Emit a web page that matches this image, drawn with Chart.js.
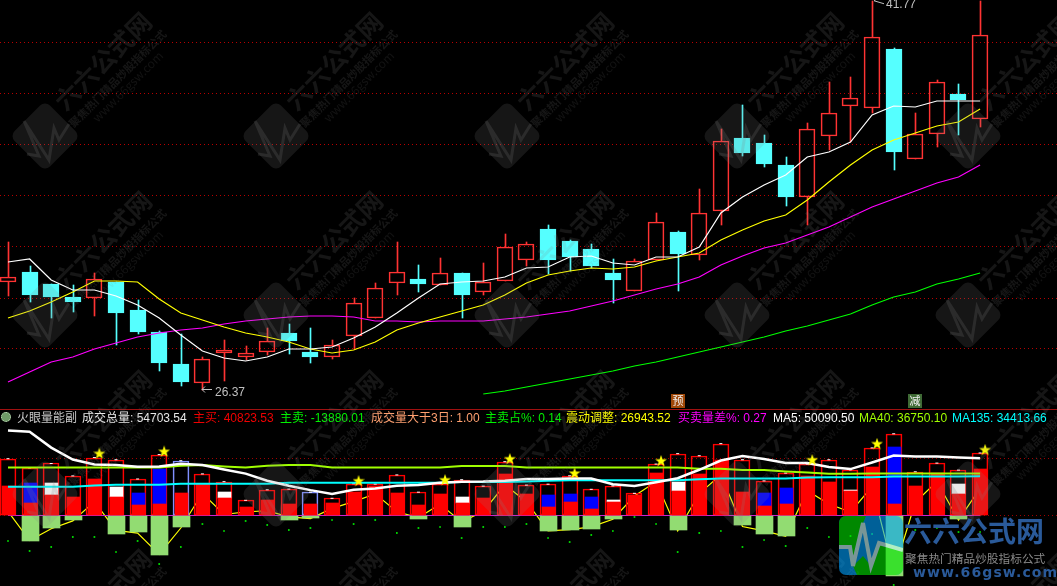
<!DOCTYPE html>
<html>
<head>
<meta charset="utf-8">
<script src="https://cdn.jsdelivr.net/npm/chart.js"></script>
<style>
html, body { margin: 0; padding: 0; background: #000; overflow: hidden; }
#wrap { position: relative; width: 1057px; height: 586px; overflow: hidden; background: #000; }
canvas { position: absolute; left: 0; top: 0; }
.sep { position: absolute; left: 0; top: 409px; width: 1057px; height: 1px; background: #a01010; }
.hd { position: absolute; top: 411px; font: 12px/14px "Liberation Sans", "Noto Sans CJK SC", sans-serif; white-space: nowrap; }
.icon { position: absolute; left: 1px; top: 412px; width: 10px; height: 10px; border-radius: 50%; background: #6f9a68; border: 1px dotted #cfe8c8; box-sizing: border-box; }
.wm { position: absolute; left: 0; top: 0; pointer-events: none; }
.wm div { position: absolute; white-space: nowrap; color: rgba(128,128,128,.17); font-family: "Noto Sans CJK SC", sans-serif; }
.logo { position: absolute; left: 839px; top: 516px; width: 64px; height: 59px; border-radius: 7px; overflow: hidden; opacity: .6; }
.lt { position: absolute; white-space: nowrap; font-family: "Noto Sans CJK SC", sans-serif; }
</style>
</head>
<body>
<div id="wrap">
  <canvas id="c" width="1057" height="586"></canvas>
  <div class="sep"></div>
  <div class="icon"></div>
  <span class="hd" style="left:17px;color:#c8c8c8">火眼量能副</span>
  <span class="hd" style="left:82px;color:#e8e8e8">成交总量: 54703.54</span>
  <span class="hd" style="left:193px;color:#f00000">主买: 40823.53</span>
  <span class="hd" style="left:280px;color:#00f000">主卖: -13880.01</span>
  <span class="hd" style="left:371px;color:#ffa070">成交量大于3日: 1.00</span>
  <span class="hd" style="left:485px;color:#00f000">主卖占%: 0.14</span>
  <span class="hd" style="left:566px;color:#ffff00">震动调整: 26943.52</span>
  <span class="hd" style="left:678px;color:#ff00ff">买卖量差%: 0.27</span>
  <span class="hd" style="left:773px;color:#ffffff">MA5: 50090.50</span>
  <span class="hd" style="left:859px;color:#a0ff00">MA40: 36750.10</span>
  <span class="hd" style="left:952px;color:#00ffff">MA135: 34413.66</span>
  <div class="wm" id="wm"></div>
  <div class="logo">
    <svg width="64" height="59" viewBox="0 0 64 59">
      <rect width="64" height="59" fill="#00a0fd"/>
      <polygon points="0,0 27,0 24,7 14,50 11,31 0,31" fill="#00e300"/>
      <polygon points="24,40 32,50 40,27 64,34 64,59 18,59 14,50" fill="#00e300"/>
      <polyline points="0,31 11,31 14,50 24,7 32,50 40,27 64,34" fill="none" stroke="#c8fafa" stroke-width="4"/>
    </svg>
  </div>
  <div class="lt" style="left:904px;top:510px;font-size:28px;font-weight:700;color:#2a5a9a;letter-spacing:0">六六公式网</div>
  <div class="lt" style="left:905px;top:549px;font-size:11.7px;color:#8a8a8a">聚焦热门精品炒股指标公式</div>
  <div class="lt" style="left:913px;top:564px;font:bold 14px 'DejaVu Sans';color:#2a5a9a;letter-spacing:1.1px">www.66gsw.com</div>
</div>

<script>
const opens = [30.52,30.92,30.44,29.92,29.88,30.52,29.4,28.52,27.24,26.48,27.68,27.52,27.72,28.48,27.72,27.52,28.36,29.08,30.48,30.64,30.4,30.88,30.12,30.56,31.4,32.64,32.16,31.84,30.88,30.16,31.4,32.52,31.6,33.36,36.28,36.08,35.2,33.92,36.36,37.56,37.48,39.84,35.44,36.44,38.04,37.04];
const closes = [30.72,30.0,29.92,29.72,30.64,29.28,28.52,27.28,26.52,27.44,27.8,27.68,28.16,28.16,27.52,28.0,29.68,30.28,30.92,30.44,30.88,30.0,30.52,31.92,32.04,31.4,31.52,31.16,30.6,31.36,32.92,31.64,33.28,36.16,35.68,35.24,33.92,36.64,37.28,37.88,40.32,35.72,36.44,38.52,37.8,40.4];
const highs = [32.12,31.16,30.44,30.4,30.88,30.52,29.8,28.56,28.44,27.52,28.2,27.96,28.68,28.84,28.68,28.2,29.88,30.48,32.12,31.2,31.48,30.88,31.28,32.44,32.12,32.8,32.2,32.04,31.44,31.44,33.28,32.56,34.24,36.64,37.6,36.4,35.52,36.88,38.52,38.72,41.77,39.88,37.28,38.6,38.44,41.76];
const lows = [29.96,29.72,29.08,29.32,29.16,28.0,28.44,26.96,26.36,26.2,26.56,27.4,27.6,27.64,27.28,27.44,27.84,29.08,30.0,30.12,30.4,29.08,30.0,30.56,31.16,30.84,30.96,31.08,29.68,30.16,31.4,30.16,31.4,32.8,35.56,35.12,33.56,32.8,35.8,36.12,37.28,35.0,35.44,35.92,36.4,36.72];

const maWhite = [31.32,31.44,30.6,30.2,30.2,29.96,29.6,29.08,28.4,27.76,27.48,27.36,27.52,27.84,27.84,27.92,28.28,28.72,29.28,29.88,30.44,30.52,30.56,30.72,31.08,31.12,31.52,31.56,31.28,31.2,31.52,31.52,31.92,33.28,33.92,34.4,34.8,35.52,35.72,36.12,37.2,37.56,37.52,37.76,37.76,37.76];
const maYellow = [29.08,29.36,29.72,30.12,30.56,30.56,30.52,29.84,29.28,29.0,28.72,28.48,28.32,28.12,27.84,27.68,27.8,28.12,28.6,28.88,29.12,29.36,29.6,30.0,30.48,30.8,30.96,31.08,31.04,31.12,31.36,31.52,31.68,32.2,32.6,32.96,33.2,33.8,34.52,35.2,35.8,36.2,36.48,36.76,36.92,37.44];
const maMagenta = [26.52,26.92,27.32,27.52,27.84,28.08,28.32,28.48,28.6,28.68,28.84,28.96,29.04,29.12,29.16,29.16,29.12,28.96,28.96,28.92,28.96,28.96,28.96,29.04,29.12,29.24,29.36,29.56,29.76,30.0,30.24,30.44,30.72,31.2,31.56,31.88,32.08,32.4,32.72,33.12,33.52,33.84,34.16,34.48,34.72,35.2];
const maGreen = [null,null,null,null,null,null,null,null,null,null,null,null,null,null,null,null,null,null,null,null,null,null,26.04,26.16,26.32,26.48,26.64,26.8,26.96,27.16,27.32,27.52,27.72,27.92,28.12,28.32,28.56,28.76,29.0,29.24,29.6,29.92,30.12,30.44,30.64,30.88];
const priceGrid = [40.08,38.04,36.0,33.96,31.92,29.88,27.84];

const totalVol = [49700,41750,45500,34650,50750,48800,31950,53300,47950,36400,29600,13300,22500,23100,20400,15050,27800,27500,35500,20400,27800,31300,25700,47100,26600,27400,34750,22900,25900,19400,45000,54100,52300,62900,48800,30300,37100,45000,48800,40000,59150,71500,38250,45850,39700,54703.54];
const mainBuy = [26000,10950,17750,16300,32200,16300,8850,10050,19800,27500,15400,7450,13650,10050,10050,10950,20400,26000,19800,8850,18900,10950,15400,36650,18900,7350,11700,5600,12100,17950,37350,21450,36500,48800,20550,8200,10000,34750,29400,21450,42600,10000,25900,37350,18550,40823.53];
const blueExtra = [null,17500,null,null,null,null,10950,30800,null,null,null,null,null,null,null,null,null,null,null,null,null,null,null,null,null,10600,7100,10600,null,null,null,null,null,null,null,11450,14200,null,null,null,null,50300,null,null,null,null];
const whiteExtra = [null,null,10950,null,null,8850,null,null,null,null,5350,null,null,null,null,null,null,null,null,null,null,5350,null,null,null,null,null,null,1500,null,null,8300,null,null,null,null,null,null,null,600,null,null,null,null,9100,null];
const mainSell = [null,-21900,-11200,-4100,null,-16550,-14800,-34300,-10300,null,null,null,null,-4100,-2350,null,null,null,null,-3250,null,-10300,null,null,null,-13550,-12700,-12100,-3250,null,null,-12950,null,null,-8500,-15950,-18200,null,null,null,null,-52500,null,null,-3000,null];
const diffLine = [3550,-21900,-11550,-4750,12100,-13000,-15400,-34000,-10950,19500,900,3250,4150,-1200,-2650,6200,12100,18900,3250,-1800,9750,-5600,3550,26900,12100,-13500,-12350,-10000,-3250,17050,29700,-13500,19100,35600,-9700,-13500,-18200,21750,10000,2950,25300,-49700,11450,29700,-4100,23800];
const ma5 = [74300,73300,59400,49000,44600,44100,42600,42900,45250,44100,40250,36650,30450,26000,22200,18900,22500,23600,26000,26600,28700,29600,29750,30450,31950,32000,32400,32400,27400,25900,29150,32650,40000,48100,52050,49450,45850,45850,42350,40600,46400,52500,51600,51600,50750,50090.5];
const ma40 = [42000,42000,42000,42000,42000,42000,42000,42000,43500,44100,42900,42000,43500,44100,44100,42000,42000,42000,42000,42000,42000,43400,43400,43400,42000,42000,42000,42000,42000,42000,42000,42000,40850,40850,39800,39800,38500,37600,36500,36500,36750,36750,36750,36750,36750,36750.1];
const ma135 = [25100,25100,25100,25100,26250,26950,26950,26950,27800,27800,27800,27800,27800,28700,28700,28700,28700,28700,28700,28700,28700,29300,29300,29300,29750,30300,30900,30900,30900,30900,30900,30900,31750,32400,32400,32400,32400,33250,33500,33500,33500,34100,34100,34100,34100,34413.66];
const dots = [-22300,-31050,-27550,-18800,-18800,-31950,-22300,-42450,-27550,-7450,-13550,-4800,-8300,-12700,-10950,-3950,-7450,-3950,-15300,-10950,-10050,-19700,-10050,-10050,-7450,-19700,-23200,-17050,-13550,-1300,-7450,-31950,-15300,-13550,-27550,-21450,-26700,-10950,-18800,-17950,-16200,-60800,-12700,-10950,-14450,-14450];
const starDays = [4,7,16,20,23,26,30,37,40,45];
const starLevels = [54400,56200,30450,31300,49700,37100,47950,48800,62900,57650];
const volGrid = [0,49500];
const blueOutlineDays = [8,14];

const lowDay = 9, lowText = '26.37';
const highDay = 40, highText = '41.77';
const tagDays = [31,42];
const tagTexts = ['预','减'];

const RED = '#ff3333', CYAN = '#55ffff';
const isUp = i => closes[i] >= opens[i];
const candleColor = c => isUp(c.dataIndex) ? RED : CYAN;

// filled star, the built-in one is only an outline
const starImg = document.createElement('canvas');
starImg.width = 12; starImg.height = 12;
(function () {
    const g = starImg.getContext('2d');
    g.fillStyle = '#ffff00';
    g.beginPath();
    for (let k = 0; k < 10; k++) {
        const r = k % 2 ? 2.5 : 6.2;
        const a = -Math.PI / 2 + k * Math.PI / 5;
        g.lineTo(6 + r * Math.cos(a), 6.4 + r * Math.sin(a));
    }
    g.closePath();
    g.fill();
})();

function pts(arr) { return arr.map((v, i) => ({ x: i, y: v })); }

function lineSet(arr, color, width, axis, order) {
    return { type: 'line', data: pts(arr), borderColor: color, borderWidth: width, pointRadius: 0, tension: 0, yAxisID: axis, order: order, spanGaps: false };
}
function barSet(data, color, thick, axis, order, extra) {
    return Object.assign({ type: 'bar', data: data, backgroundColor: color, barThickness: thick, grouped: false, borderWidth: 0, yAxisID: axis, order: order }, extra || {});
}

const datasets = [
    // price panel
    barSet(pts(highs.map((h, i) => [Math.max(opens[i], closes[i]), h])), candleColor, 1, 'p', 70),
    barSet(pts(lows.map((l, i) => [l, Math.min(opens[i], closes[i])])), candleColor, 1, 'p', 70),
    barSet(pts(opens.map((o, i) => [o, closes[i]])), c => isUp(c.dataIndex) ? 'rgba(0,0,0,0)' : CYAN, 16, 'p', 60,
        { borderColor: candleColor, borderWidth: 1, borderSkipped: false }),
    lineSet(maGreen, '#00ff00', 1.2, 'p', 50),
    lineSet(maMagenta, '#ff00ff', 1.2, 'p', 49),
    lineSet(maYellow, '#ffff00', 1.2, 'p', 48),
    lineSet(maWhite, '#ffffff', 1.2, 'p', 47),

    // volume panel
    lineSet(diffLine, '#ffff00', 1.2, 'v', 40),
    { type: 'line', data: [{ x: 0, y: 0 }, { x: 45, y: 0 }], borderColor: '#d020d0', borderWidth: 1, pointRadius: 0, yAxisID: 'v', order: 39 },
    barSet(pts(totalVol), 'rgba(0,0,0,0)', 16, 'v', 30, {
        borderColor: c => blueOutlineDays.includes(c.dataIndex) ? '#8090ff' : '#ff0000',
        borderWidth: 1, borderSkipped: false
    }),
    barSet(pts(mainSell), '#92dc72', 17, 'v', 29),
    barSet(pts(blueExtra.map((v, i) => v === null ? null : [mainBuy[i], mainBuy[i] + v])), '#0000ff', 13, 'v', 28),
    barSet(pts(whiteExtra.map((v, i) => v === null ? null : [mainBuy[i], mainBuy[i] + v])), '#ffffff', 13, 'v', 28),
    barSet(pts(mainBuy), '#ff0000', 13, 'v', 27),
    { type: 'line', data: pts(totalVol), showLine: false, pointStyle: 'line', pointRadius: 1.5, pointBorderColor: '#ffffff', pointBorderWidth: 1, yAxisID: 'v', order: 26 },
    { type: 'line', data: pts(dots), showLine: false, pointStyle: 'rect', pointRadius: 1.2, pointBackgroundColor: '#00f000', pointBorderWidth: 0, yAxisID: 'v', order: 25 },
    lineSet(ma135, '#00ffff', 2, 'v', 24),
    lineSet(ma40, '#a0ff00', 2, 'v', 23),
    lineSet(ma5, '#ffffff', 2.5, 'v', 22),
    // the stars sit a little right of their bar
    { type: 'line', data: starDays.map((d, k) => ({ x: d + 0.23, y: starLevels[k] })), showLine: false, pointStyle: starImg, yAxisID: 'v', order: 21 }
];

// snap bars to whole pixels so the edges stay hard like in the terminal
const snapBars = {
    id: 'snapBars',
    afterDatasetsUpdate(chart) {
        chart.getSortedVisibleDatasetMetas().forEach(m => {
            if (m.type !== 'bar') return;
            m.data.forEach(el => {
                el.x = Math.round(el.x) + (Math.round(el.width) % 2 ? 0.5 : 0);
                el.y = Math.round(el.y);
                el.base = Math.round(el.base);
            });
        });
    }
};

const priceLabels = {
    id: 'priceLabels',
    afterDraw(chart) {
        const g = chart.ctx, x = chart.scales.x, p = chart.scales.p;
        g.save();
        g.font = '12px "Liberation Sans"';
        g.fillStyle = '#c0c0c0';
        g.strokeStyle = '#c0c0c0';
        g.lineWidth = 1;
        g.textBaseline = 'alphabetic';

        const lx = Math.round(x.getPixelForValue(lowDay)), ly = Math.round(p.getPixelForValue(lows[lowDay])) - 0.5;
        g.beginPath();
        g.moveTo(lx, ly); g.lineTo(lx + 10, ly);
        g.moveTo(lx, ly); g.lineTo(lx + 3, ly - 3);
        g.moveTo(lx, ly); g.lineTo(lx + 3, ly + 3);
        g.stroke();
        g.fillText(lowText, lx + 13, ly + 6);

        const hx = Math.round(x.getPixelForValue(highDay)), hy = p.getPixelForValue(highs[highDay]);
        g.beginPath();
        g.moveTo(hx + 2, hy); g.lineTo(hx + 12, hy + 3);
        g.moveTo(hx + 2, hy); g.lineTo(hx + 5, hy - 2);
        g.stroke();
        g.fillText(highText, hx + 14, hy + 7);

        // 预 / 减 tags above the lower panel
        g.font = '11px "Noto Sans CJK SC"';
        g.textAlign = 'center';
        g.textBaseline = 'middle';
        tagDays.forEach((d, k) => {
            const tx = Math.round(x.getPixelForValue(d));
            g.fillStyle = k === 0 ? '#a04808' : '#3f6a35';
            g.fillRect(tx - 7, 394, 14, 14);
            g.fillStyle = '#f0f0f0';
            g.fillText(tagTexts[k], tx, 401);
        });
        g.restore();
    }
};

new Chart(document.getElementById('c'), {
    type: 'bar',
    data: { datasets: datasets },
    plugins: [snapBars, priceLabels],
    options: {
        responsive: false,
        animation: false,
        events: [],
        layout: { padding: 0, autoPadding: false },
        plugins: { legend: { display: false }, tooltip: { enabled: false } },
        scales: {
            x: { type: 'linear', display: false, offset: false, min: -0.37, max: 48.56 },
            p: {
                type: 'linear', position: 'left', min: 18.36, max: 41.8,
                afterBuildTicks: s => { s.ticks = priceGrid.map(v => ({ value: v })); },
                afterFit: s => { s.width = 0; },
                ticks: { display: false },
                border: { display: false, dash: [1, 3] },
                grid: { color: '#b80000', lineWidth: 1, drawTicks: false }
            },
            v: {
                type: 'linear', position: 'left', min: -61687.5, max: 451062.5,
                afterBuildTicks: s => { s.ticks = volGrid.map(v => ({ value: v })); },
                afterFit: s => { s.width = 0; },
                ticks: { display: false },
                border: { display: false, dash: [1, 3] },
                grid: { color: '#a00000', lineWidth: 1, drawTicks: false }
            }
        }
    }
});

// site watermark laid over everything, same tile repeated
const wm = document.getElementById('wm');
function wmText(txt, x, y, css) {
    const d = document.createElement('div');
    d.textContent = txt;
    d.style.cssText = 'left:' + x + 'px;top:' + y + 'px;transform:translate(-50%,-50%) rotate(-45deg);' + css;
    wm.appendChild(d);
}
[45, 276, 507, 737, 968].forEach(cx => {
    [136, 315, 494, 673].forEach(cy => {
        const box = document.createElement('div');
        box.style.cssText = 'left:' + (cx - 25) + 'px;top:' + (cy - 25) + 'px;width:50px;height:50px;border-radius:7px;transform:rotate(45deg);background:rgba(128,128,128,.17)';
        wm.appendChild(box);
        const s = document.createElementNS('http://www.w3.org/2000/svg', 'svg');
        s.setAttribute('width', 70); s.setAttribute('height', 70);
        s.setAttribute('viewBox', '-35 -35 70 70');
        s.style.cssText = 'position:absolute;left:' + (cx - 35) + 'px;top:' + (cy - 35) + 'px';
        const pl = document.createElementNS('http://www.w3.org/2000/svg', 'polyline');
        pl.setAttribute('points', '-18,18 -6,20 -21,-15 4,24 9,-8 14,4 24,-12');
        pl.setAttribute('fill', 'none');
        pl.setAttribute('stroke', 'rgba(128,128,128,.2)');
        pl.setAttribute('stroke-width', 3);
        s.appendChild(pl);
        wm.appendChild(s);
        wmText('六六公式网', cx + 57, cy - 76, 'font-size:25px;font-weight:700');
        wmText('聚焦热门精品炒股指标公式', cx + 72, cy - 58, 'font-size:11px;font-weight:700');
        wmText('www.66gsw.com', cx + 82, cy - 50, 'font-size:12px;color:rgba(128,128,128,.14)');
    });
});
</script>
</body>
</html>
